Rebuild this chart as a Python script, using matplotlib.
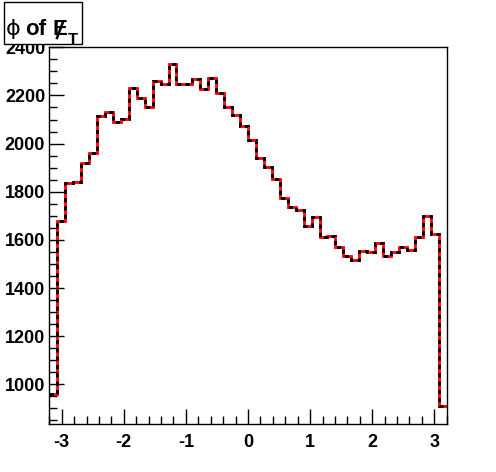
import numpy as np
import matplotlib
matplotlib.use('Agg')
import matplotlib.pyplot as plt
from matplotlib.patches import Rectangle
from matplotlib.lines import Line2D
from matplotlib.ticker import MultipleLocator

plt.rcParams['axes.unicode_minus'] = False

# phi of missing ET, 50 bins from -3.2 to 3.2
x_low, x_high, nbins = -3.2, 3.2, 50
counts = [958, 1680, 1837, 1841, 1921, 1960, 2116, 2131, 2088, 2103,
          2229, 2189, 2150, 2262, 2247, 2331, 2247, 2247, 2267, 2225,
          2271, 2210, 2154, 2117, 2075, 2013, 1942, 1904, 1852, 1772,
          1738, 1722, 1658, 1697, 1610, 1618, 1572, 1535, 1518, 1554,
          1550, 1585, 1531, 1551, 1571, 1558, 1610, 1701, 1624, 908]
xticks = [-3, -2, -1, 0, 1, 2, 3]
yticks = [1000, 1200, 1400, 1600, 1800, 2000, 2200, 2400]

edges = np.linspace(x_low, x_high, nbins + 1)

W, H = 496, 472
fig = plt.figure(figsize=(W/100, H/100), dpi=100)
ax = fig.add_axes([49.3/W, (H-424)/H, (446.7-49.3)/W, (424-47.3)/H])

ax.stairs(counts, edges, baseline=None, color='red', lw=2)
ax.stairs(counts, edges, baseline=None, color='black', lw=2, linestyle=(0, (1.5, 1.5)))

ax.set_xlim(x_low, x_high)
ax.set_ylim(835, 2400)
ax.set_xticks(xticks)
ax.set_yticks(yticks)
ax.xaxis.set_minor_locator(MultipleLocator(0.2))
ax.yaxis.set_minor_locator(MultipleLocator(50))
ax.tick_params(which='both', direction='in', top=False, right=False, width=1, color='black')
ax.tick_params(which='major', length=11)
ax.tick_params(which='minor', length=6)
ax.tick_params(axis='x', pad=7)
ax.tick_params(axis='y', pad=3)
for lab in ax.get_xticklabels() + ax.get_yticklabels():
    lab.set_fontfamily('Liberation Sans')
    lab.set_fontweight('bold')
    lab.set_fontsize(13)
for s in ax.spines.values():
    s.set_linewidth(1)

# title box
def px(x, y):
    return x / W, 1 - y / H

fig.patches.append(Rectangle(px(4, 44), 78/W, 42/H, transform=fig.transFigure,
                             fill=True, facecolor='white', edgecolor='black', lw=1, zorder=5))
base = 35
fig.text(*px(6, base), '\u03d5', fontsize=16, family='DejaVu Sans', va='baseline', zorder=6)
fig.text(*px(25, base), 'of', fontsize=16, family='Liberation Sans', weight='bold',
         va='baseline', zorder=6)
fig.text(*px(53, base), 'E', fontsize=16, family='Liberation Sans', weight='bold',
         va='baseline', zorder=6)
fig.lines.append(Line2D([57/W, 63/W], [1 - 38/H, 1 - 22/H], transform=fig.transFigure,
                        color='black', lw=1.8, zorder=7))
fig.text(*px(68, 45), 'T', fontsize=12, family='Liberation Sans', weight='bold',
         va='baseline', zorder=6)

fig.savefig('out.png', dpi=100)
